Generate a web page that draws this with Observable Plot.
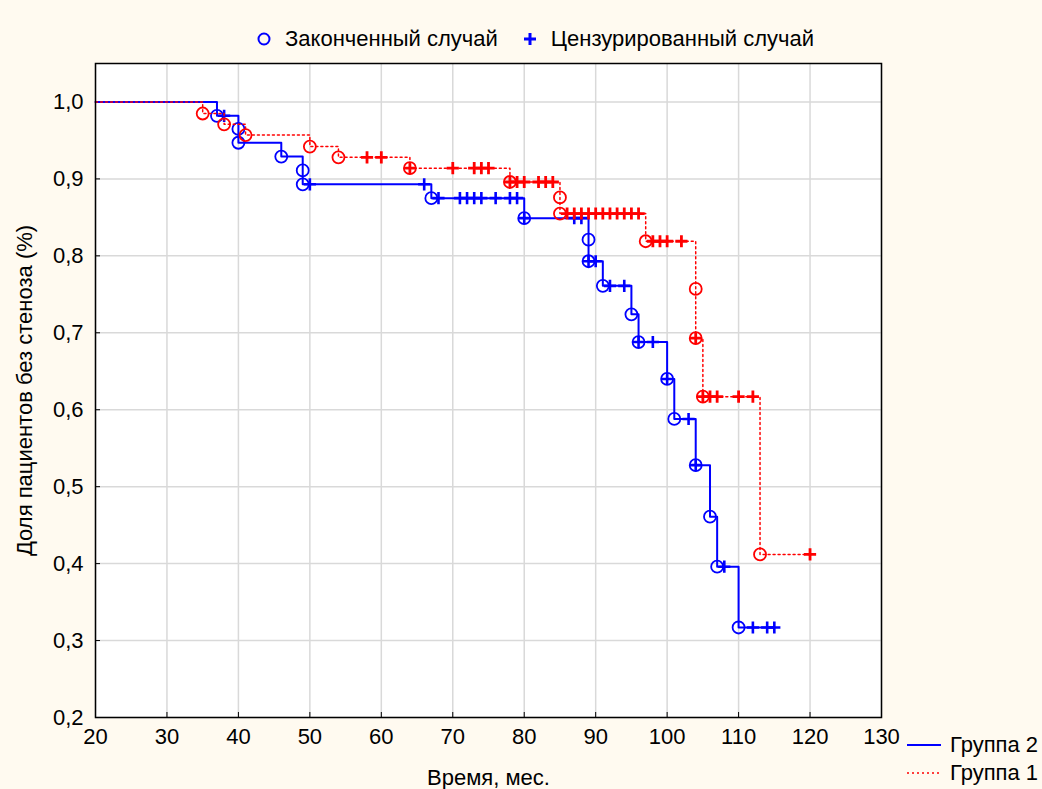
<!DOCTYPE html>
<html>
<head>
<meta charset="utf-8">
<script src="https://cdn.jsdelivr.net/npm/d3@7"></script>
<script src="https://cdn.jsdelivr.net/npm/@observablehq/plot@0.6"></script>
<style>
  html, body { margin: 0; padding: 0; background: #fffaf0; }
  body { width: 1042px; height: 789px; position: relative; overflow: hidden;
         font-family: "Liberation Sans", Arial, sans-serif; }
  #chart { position: absolute; left: 0; top: 0; }
  .legend { position: absolute; font-size: 22px; color: #000; display: flex; align-items: center; white-space: nowrap; }
  .legend svg { display: block; }
</style>
</head>
<body>
<div id="chart"></div>
<div class="legend" id="topLegend" style="left:255px; top:26px;">
  <svg width="20" height="26"><circle cx="9" cy="13" r="5.5" fill="none" stroke="#0000ff" stroke-width="2"/></svg>
  <span style="margin-left:10px;">Законченный случай</span>
  <svg width="22" height="26" style="margin-left:21px;"><path d="M5,13H17M11,7V19" stroke="#0000ff" stroke-width="3" fill="none"/></svg>
  <span style="margin-left:10px;">Цензурированный случай</span>
</div>
<div class="legend" style="left:906px; top:732px;">
  <svg width="36" height="26"><line x1="1" x2="35" y1="13" y2="13" stroke="#0000ff" stroke-width="2"/></svg>
  <span style="margin-left:8px;">Группа 2</span>
</div>
<div class="legend" style="left:906px; top:760px;">
  <svg width="36" height="26"><line x1="1" x2="35" y1="13" y2="13" stroke="#ff0000" stroke-width="1.5" stroke-dasharray="2,3"/></svg>
  <span style="margin-left:8px;">Группа 1</span>
</div>
<script>
// ---- Data ----
const xTicks = [20, 30, 40, 50, 60, 70, 80, 90, 100, 110, 120, 130];
const yTicks = [0.2, 0.3, 0.4, 0.5, 0.6, 0.7, 0.8, 0.9, 1.0];

// Группа 2 (blue, solid)
const g2StepT = [20, 37, 40, 46, 49, 67, 80, 89, 91, 95, 96, 100, 101, 104, 106, 107, 110, 115];
const g2StepS = [1.0, 0.982, 0.947, 0.929, 0.893, 0.875, 0.849, 0.793, 0.761, 0.724, 0.688, 0.640, 0.588, 0.528, 0.461, 0.396, 0.317, 0.317];
const g2EventT = [37, 40, 40, 46, 49, 49, 67, 80, 89, 89, 91, 95, 96, 100, 101, 104, 106, 107, 110];
const g2EventS = [0.982, 0.965, 0.947, 0.929, 0.911, 0.893, 0.875, 0.849, 0.821, 0.793, 0.761, 0.724, 0.688, 0.640, 0.588, 0.528, 0.461, 0.396, 0.317];
const g2CensT = [38, 50, 66, 68, 71, 72, 73, 74, 76, 78, 79, 80, 87, 88, 89, 90, 92, 94, 96, 98, 100, 103, 104, 108, 112, 114, 115];
const g2CensS = [0.982, 0.893, 0.893, 0.875, 0.875, 0.875, 0.875, 0.875, 0.875, 0.875, 0.875, 0.849, 0.849, 0.849, 0.793, 0.793, 0.761, 0.761, 0.688, 0.688, 0.640, 0.588, 0.528, 0.396, 0.317, 0.317, 0.317];

// Группа 1 (red, dotted)
const g1StepT = [20, 35, 38, 41, 50, 54, 64, 78, 85, 97, 104, 105, 113, 120];
const g1StepS = [1.0, 0.985, 0.971, 0.957, 0.942, 0.928, 0.914, 0.896, 0.855, 0.819, 0.693, 0.617, 0.412, 0.412];
const g1EventT = [35, 38, 41, 50, 54, 64, 78, 85, 85, 97, 104, 104, 105, 113];
const g1EventS = [0.985, 0.971, 0.957, 0.942, 0.928, 0.914, 0.896, 0.876, 0.855, 0.819, 0.757, 0.693, 0.617, 0.412];
const g1CensT = [58, 60, 64, 70, 73, 74, 75, 78, 79, 80, 82, 83, 84, 86, 87, 88, 89, 90, 91, 92, 93, 94, 95, 96, 98, 99, 100, 102, 104, 105, 106, 107, 110, 112, 120];
const g1CensS = [0.928, 0.928, 0.914, 0.914, 0.914, 0.914, 0.914, 0.896, 0.896, 0.896, 0.896, 0.896, 0.896, 0.855, 0.855, 0.855, 0.855, 0.855, 0.855, 0.855, 0.855, 0.855, 0.855, 0.855, 0.819, 0.819, 0.819, 0.819, 0.693, 0.617, 0.617, 0.617, 0.617, 0.617, 0.412];

const zip = (T, S) => T.map((t, i) => ({t, s: S[i]}));
const g2Step = zip(g2StepT, g2StepS), g2Ev = zip(g2EventT, g2EventS), g2Ce = zip(g2CensT, g2CensS);
const g1Step = zip(g1StepT, g1StepS), g1Ev = zip(g1EventT, g1EventS), g1Ce = zip(g1CensT, g1CensS);

const blue = "#0000ff", red = "#ff0000";
const fmt = d => d3.format(".1f")(d).replace(".", ",");

const chart = Plot.plot({
  width: 1042,
  height: 789,
  marginLeft: 95,
  marginRight: 161,
  marginTop: 63,
  marginBottom: 72,
  style: {background: "transparent", fontFamily: "'Liberation Sans', Arial, sans-serif", fontSize: "22px", color: "#000"},
  x: {domain: [20, 130], ticks: xTicks},
  y: {domain: [0.2, 1.05], ticks: yTicks},
  marks: [
    Plot.frame({fill: "white", stroke: null}),
    Plot.gridX(xTicks, {stroke: "#d9d9d9", strokeOpacity: 1, strokeWidth: 1.5}),
    Plot.gridY(yTicks, {stroke: "#d9d9d9", strokeOpacity: 1, strokeWidth: 1.5}),
    Plot.axisX(xTicks, {tickSize: -5, tickPadding: 16, stroke: "black", label: "Время, мес.", labelAnchor: "center", labelOffset: 67, labelArrow: "none", tickFormat: d => String(d)}),
    Plot.axisY(yTicks, {tickSize: -5, tickPadding: 17, stroke: "black", label: "Доля пациентов без стеноза (%)", labelAnchor: "center", labelOffset: 79, labelArrow: "none", tickFormat: fmt}),
    Plot.line(g2Step, {x: "t", y: "s", curve: "step-after", stroke: blue, strokeWidth: 2}),
    Plot.dot(g2Ev, {x: "t", y: "s", r: 6, stroke: blue, strokeWidth: 1.8, fill: "none"}),
    Plot.dot(g2Ce, {x: "t", y: "s", symbol: "plus", r: 4, stroke: blue, strokeWidth: 2.6}),
    Plot.line(g1Step, {x: "t", y: "s", curve: "step-after", stroke: red, strokeWidth: 1.5, strokeDasharray: "2,3"}),
    Plot.dot(g1Ev, {x: "t", y: "s", r: 6, stroke: red, strokeWidth: 1.8, fill: "none"}),
    Plot.dot(g1Ce, {x: "t", y: "s", symbol: "plus", r: 4, stroke: red, strokeWidth: 2.8}),
    Plot.frame({stroke: "black", strokeWidth: 1.5})
  ]
});
document.getElementById("chart").appendChild(chart);
</script>
</body>
</html>
